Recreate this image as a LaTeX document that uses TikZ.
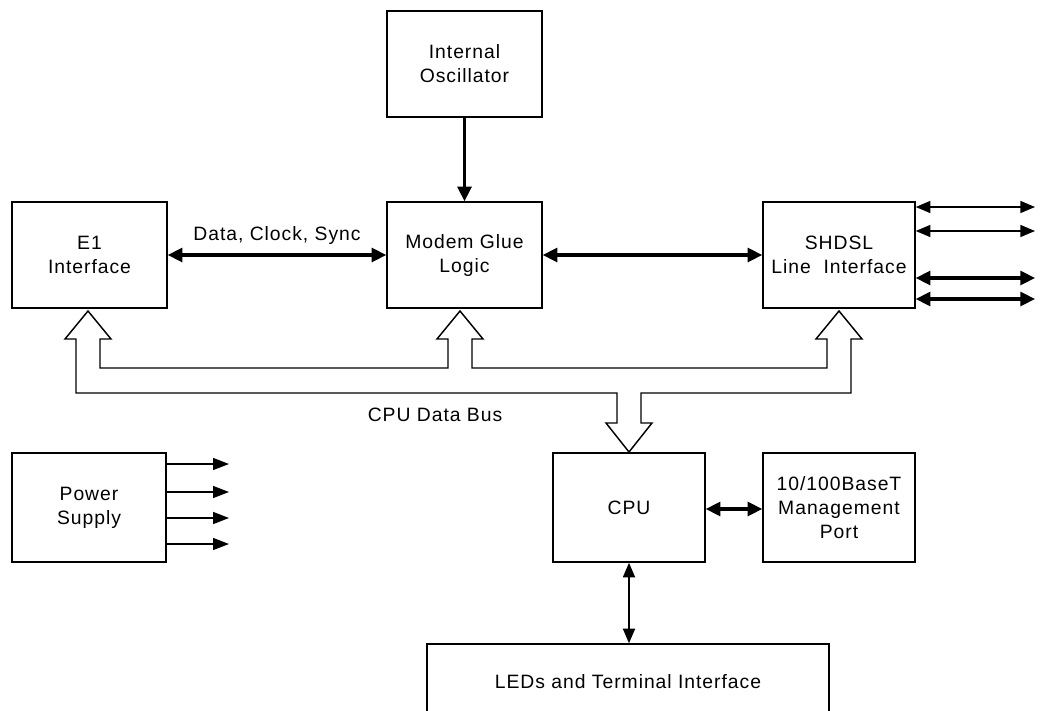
\documentclass[tikz,border=0pt]{standalone}
\usepackage{fontspec}
\setmainfont{Liberation Sans}[LetterSpace=5]
\usetikzlibrary{arrows.meta,calc}
\tikzset{
  blockbox/.style={draw, line width=1.1pt, align=center, font=\fontsize{14.5}{18}\selectfont, inner sep=0pt},
  thickarrow/.style={line width=2.3pt, {Triangle[length=11pt,width=10.5pt]}-{Triangle[length=11pt,width=10.5pt]}},
  thinarrow/.style={line width=1.1pt, {Triangle[length=11pt,width=9pt]}-{Triangle[length=11pt,width=9pt]}},
  midarrow/.style={line width=1.5pt, {Triangle[length=11pt,width=9pt]}-{Triangle[length=11pt,width=9pt]}},
  outarrow/.style={line width=1.1pt, -{Triangle[length=12pt,width=9pt]}},
  downarrow/.style={line width=2.3pt, -{Triangle[length=11pt,width=10.5pt]}},
  buspoly/.style={draw, line width=1.1pt, fill=white},
  lbl/.style={font=\fontsize{14.5}{18}\selectfont}
}
\begin{document}
\begin{tikzpicture}[x=0.75pt,y=-0.75pt]
\clip (0,0) rectangle (1040,711);
\fill[white] (0,0) rectangle (1040,711);

\node[blockbox, minimum width=116.25pt, minimum height=79.5pt] (osc) at (464.5,64) {Internal\\Oscillator};
\node[blockbox, minimum width=116.25pt, minimum height=79.5pt] (e1) at (89.5,255) {E1\\Interface};
\node[blockbox, minimum width=116.25pt, minimum height=79.5pt] (glue) at (464.5,255) {Modem Glue\\Logic};
\node[blockbox, minimum width=114pt, minimum height=79.5pt] (shdsl) at (839,255) {SHDSL\\Line\ \ Interface};
\node[blockbox, minimum width=115.5pt, minimum height=81.75pt] (power) at (89,507.5) {Power\\Supply};
\node[blockbox, minimum width=114pt, minimum height=81.75pt] (cpu) at (629,507.5) {CPU};
\node[blockbox, minimum width=114pt, minimum height=81.75pt] (mgmt) at (839,507.5) {10/100BaseT\\Management\\Port};
\node[blockbox, minimum width=301.5pt, minimum height=57pt] (leds) at (628,682) {LEDs and Terminal Interface};

% connectors
\draw[downarrow] (osc.south) -- (glue.north);
\draw[thickarrow] (e1.east) -- node[lbl, midway, yshift=15pt] {Data, Clock, Sync} (glue.west);
\draw[thickarrow] (glue.east) -- (shdsl.west);
\draw[thickarrow] (cpu.east |- 0,509) -- (mgmt.west |- 0,509);
\draw[midarrow] (cpu.south) -- (cpu.south |- leds.north);

% SHDSL line outputs
\coordinate (s1) at (1035,207);
\coordinate (s2) at (1035,231);
\coordinate (s3) at (1035,278);
\coordinate (s4) at (1035,299);
\draw[thinarrow] (shdsl.east |- s1) -- (s1);
\draw[thinarrow] (shdsl.east |- s2) -- (s2);
\draw[thickarrow] (shdsl.east |- s3) -- (s3);
\draw[thickarrow] (shdsl.east |- s4) -- (s4);

% power outputs
\coordinate (p1) at (229,464);
\coordinate (p2) at (229,492);
\coordinate (p3) at (229,518);
\coordinate (p4) at (229,544);
\draw[outarrow] (power.east |- p1) -- (p1);
\draw[outarrow] (power.east |- p2) -- (p2);
\draw[outarrow] (power.east |- p3) -- (p3);
\draw[outarrow] (power.east |- p4) -- (p4);

% CPU data bus
\draw[buspoly, line join=miter]
  (88,311) -- (111,339) -- (100,339) -- (100,368) -- (448,368) -- (448,339) -- (437,339)
  -- (460,311) -- (483,339) -- (472,339) -- (472,368) -- (827,368) -- (827,339) -- (816,339)
  -- (839,311) -- (862,339) -- (851,339) -- (851,393) -- (641,393) -- (641,423) -- (652,423)
  -- (629,452) -- (606,423) -- (617,423) -- (617,393) -- (76,393) -- (76,339) -- (65,339) -- cycle;
\node[lbl] (busl) at (435,415) {CPU Data Bus};
\end{tikzpicture}
\end{document}
